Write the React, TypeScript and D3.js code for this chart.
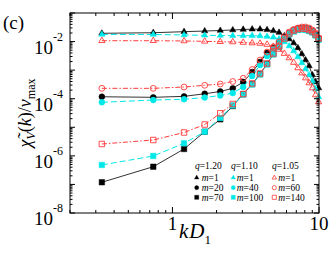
import * as React from "react";
import * as d3 from "d3";

// kD1 positions of the points (same for every curve)
const kD1 = [0.33, 0.74, 1.2, 1.66, 2.12, 2.58, 3.04, 3.5, 3.96, 4.42, 4.88, 5.34, 5.8, 6.26, 6.72, 7.18, 7.64, 8.1, 8.56, 9.02, 9.48, 9.94];

// q = 1.20 (black)
const q120m1 = [1.95e-2, 2.04e-2, 2.22e-2, 2.34e-2, 2.44e-2, 2.54e-2, 2.65e-2, 2.71e-2, 2.71e-2, 2.58e-2, 2.38e-2, 2.08e-2, 1.57e-2, 1.23e-2, 8.9e-3, 5.96e-3, 3.67e-3, 2.26e-3, 1.4e-3, 6.76e-4, 3.85e-4, 2.37e-4];
const q120m20 = [1.17e-4, 1.12e-4, 1.21e-4, 1.49e-4, 1.79e-4, 2.31e-4, 3.85e-4, 8.6e-4, 1.93e-3, 3.98e-3, 5.96e-3, 8.9e-3, 1.39e-2, 2.0e-2, 2.54e-2, 2.87e-2, 2.99e-2, 2.99e-2, 2.75e-2, 2.34e-2, 1.77e-2, 1.23e-2];
const q120m70 = [1.19e-7, 4.17e-7, 1.74e-6, 7.0e-6, 1.9e-5, 5.56e-5, 1.43e-4, 3.27e-4, 7.33e-4, 1.64e-3, 3.67e-3, 6.72e-3, 1.23e-2, 1.84e-2, 2.34e-2, 2.65e-2, 2.75e-2, 2.69e-2, 2.44e-2, 2.16e-2, 1.7e-2, 1.23e-2];

// q = 1.10 (cyan)
const q110m1 = [1.77e-2, 1.77e-2, 1.7e-2, 1.66e-2, 1.63e-2, 1.61e-2, 1.61e-2, 1.61e-2, 1.57e-2, 1.5e-2, 1.41e-2, 1.23e-2, 9.7e-3, 7.0e-3, 4.68e-3, 2.88e-3, 1.78e-3, 1.1e-3, 6.8e-4, 4.17e-4, 2.19e-4, 1.15e-4];
const q110m40 = [7.5e-5, 9.0e-5, 9.6e-5, 1.1e-4, 1.3e-4, 1.58e-4, 2.57e-4, 6.24e-4, 1.51e-3, 3.13e-3, 5.5e-3, 8.2e-3, 1.33e-2, 1.92e-2, 2.44e-2, 2.75e-2, 2.87e-2, 2.87e-2, 2.65e-2, 2.25e-2, 1.7e-2, 1.14e-2];
const q110m100 = [4.8e-7, 9.9e-7, 2.75e-6, 7.0e-6, 2.11e-5, 5.8e-5, 1.4e-4, 3.14e-4, 7.04e-4, 1.58e-3, 3.53e-3, 6.46e-3, 1.18e-2, 1.77e-2, 2.25e-2, 2.54e-2, 2.65e-2, 2.54e-2, 2.34e-2, 2.08e-2, 1.63e-2, 1.18e-2];

// q = 1.05 (red, open symbols)
const q105m1 = [1.07e-2, 1.07e-2, 1.05e-2, 1.02e-2, 9.9e-3, 9.7e-3, 9.3e-3, 8.9e-3, 8.6e-3, 7.9e-3, 6.7e-3, 5.3e-3, 3.8e-3, 2.66e-3, 1.85e-3, 1.19e-3, 7.9e-4, 5.3e-4, 3.55e-4, 2.37e-4, 1.35e-4, 7.7e-5];
const q105m60 = [2.31e-4, 2.31e-4, 2.57e-4, 2.95e-4, 3.27e-4, 4.0e-4, 5.18e-4, 1.05e-3, 2.26e-3, 4.3e-3, 6.46e-3, 9.7e-3, 1.5e-2, 2.16e-2, 2.65e-2, 2.99e-2, 3.24e-2, 3.24e-2, 2.99e-2, 2.54e-2, 2.0e-2, 1.33e-2];
const q105m140 = [2.6e-6, 3.59e-6, 6.57e-6, 1.25e-5, 3.09e-5, 6.53e-5, 1.46e-4, 3.41e-4, 7.63e-4, 1.71e-3, 3.82e-3, 7.0e-3, 1.28e-2, 1.92e-2, 2.44e-2, 2.75e-2, 2.87e-2, 2.8e-2, 2.54e-2, 2.25e-2, 1.77e-2, 1.28e-2];

const qLabels = ["q=1.20", "q=1.10", "q=1.05"];
const mLabels = [
  ["1", "20", "70"],
  ["1", "40", "100"],
  ["1", "60", "140"],
];
const yLabelExps = [-2, -4, -6, -8];
const xLabelTicks = [1, 10];

const BLACK = "#000";
const CYAN = "#00e8e8";
const RED = "#ff3a3a";

const groups = [
  { color: BLACK, line: "#333", dash: "none", filled: true, series: [q120m1, q120m20, q120m70] },
  { color: CYAN, line: CYAN, dash: "6,3", filled: true, series: [q110m1, q110m40, q110m100] },
  { color: RED, line: RED, dash: "5,2,1.5,2", filled: false, series: [q105m1, q105m60, q105m140] },
];
const shapes = [d3.symbolTriangle, d3.symbolCircle, d3.symbolSquare];
const sizes = [17, 27, 30];
const legendSizes = [9, 14, 17];

const font = "'Liberation Serif', 'Times New Roman', serif";

export default function App() {
  const W = 332;
  const H = 257;
  const left = 70;
  const right = 319;
  const top = 13;
  const bottom = 213;

  const x = d3.scaleLog().domain([0.2, 10]).range([left, right]);
  const y = d3.scaleLog().domain([1e-8, 1e-1]).range([bottom, top]);

  const isMajor = (v: number) => Math.abs(Math.log10(v) - Math.round(Math.log10(v))) < 1e-6;

  const line = d3
    .line<[number, number]>()
    .x((d) => x(d[0]))
    .y((d) => y(d[1]));

  const marker = (shapeIdx: number, size: number) =>
    d3.symbol().type(shapes[shapeIdx]).size(size)() as string;

  return (
    <svg
      width={W}
      height={H}
      style={{ position: "absolute", left: 0, top: 0, background: "#fff" }}
      fontFamily={font}
    >
      <rect x={0} y={0} width={W} height={H} fill="#fff" />

      {/* curves */}
      {groups.map((g, gi) => (
        <g key={gi}>
          {g.series.map((s, si) => {
            const pts = kD1.map((k, i) => [k, s[i]] as [number, number]);
            return (
              <g key={si}>
                <path
                  d={line(pts) as string}
                  fill="none"
                  stroke={g.line}
                  strokeWidth={1}
                  strokeDasharray={g.dash}
                />
                {pts.map((p, i) => (
                  <path
                    key={i}
                    d={marker(si, sizes[si])}
                    transform={`translate(${x(p[0])},${y(p[1])})`}
                    fill={g.filled ? g.color : "none"}
                    stroke={g.color}
                    strokeWidth={g.filled ? 0.5 : 0.9}
                  />
                ))}
              </g>
            );
          })}
        </g>
      ))}

      {/* frame */}
      <rect x={left} y={top} width={right - left} height={bottom - top} fill="none" stroke="#000" strokeWidth={1} />

      {/* x ticks */}
      {x.ticks().map((t, i) => {
        const len = isMajor(t) ? 6 : 3;
        const px = x(t);
        return (
          <g key={"xt" + i}>
            <line x1={px} x2={px} y1={bottom} y2={bottom - len} stroke="#000" />
            <line x1={px} x2={px} y1={top} y2={top + len} stroke="#000" />
          </g>
        );
      })}
      {/* y ticks */}
      {y.ticks().map((t, i) => {
        const len = isMajor(t) ? 5 : 2.5;
        const py = y(t);
        return (
          <g key={"yt" + i}>
            <line x1={left} x2={left + len} y1={py} y2={py} stroke="#000" />
            <line x1={right} x2={right - len} y1={py} y2={py} stroke="#000" />
          </g>
        );
      })}

      {/* y tick labels */}
      {yLabelExps.map((e) => {
        const py = y(Math.pow(10, e));
        return (
          <g key={"yl" + e}>
            <text x={53} y={py + 12} fontSize={19} textAnchor="end">10</text>
            <text x={53} y={py - 1} fontSize={12}>{e}</text>
          </g>
        );
      })}
      {/* x tick labels */}
      {xLabelTicks.map((t) => (
        <text key={"xl" + t} x={x(t)} y={230} fontSize={19} textAnchor="middle">
          {t}
        </text>
      ))}

      {/* axis titles */}
      <text x={179} y={238} fontSize={21}>
        <tspan fontStyle="italic">k</tspan>
        <tspan fontStyle="italic" dx={1}>D</tspan>
        <tspan fontSize={13} dy={6}>1</tspan>
      </text>
      <text transform="translate(31,113) rotate(-90)" fontSize={18} textAnchor="middle">
        <tspan fontStyle="italic">χ̃</tspan>
        <tspan fontStyle="italic" fontSize={12} dy={4}>V</tspan>
        <tspan dy={-4}>(</tspan>
        <tspan fontStyle="italic">k</tspan>
        <tspan>)/</tspan>
        <tspan fontStyle="italic">v</tspan>
        <tspan fontSize={12} dy={4}>max</tspan>
      </text>

      <text x={3} y={29} fontSize={19}>(c)</text>

      {/* legend */}
      {qLabels.map((q, gi) => {
        const colX = [195, 231, 272][gi];
        const mx = [196.7, 233.3, 274.3][gi];
        const tx = [201.7, 236.7, 278.3][gi];
        const g = groups[gi];
        return (
          <g key={"lg" + gi}>
            <text x={colX} y={169} fontSize={9.5}>
              <tspan fontStyle="italic">q</tspan>
              {q.slice(1)}
            </text>
            {mLabels[gi].map((m, si) => {
              const cy = [177.7, 187.7, 197.3][si];
              return (
                <g key={si}>
                  <path
                    d={marker(si, legendSizes[si])}
                    transform={`translate(${mx},${cy})`}
                    fill={g.filled ? g.color : "none"}
                    stroke={g.color}
                    strokeWidth={g.filled ? 0.3 : 0.8}
                  />
                  <text x={tx} y={cy + 3.3} fontSize={9.5}>
                    <tspan fontStyle="italic">m</tspan>={m}
                  </text>
                </g>
              );
            })}
          </g>
        );
      })}
    </svg>
  );
}
